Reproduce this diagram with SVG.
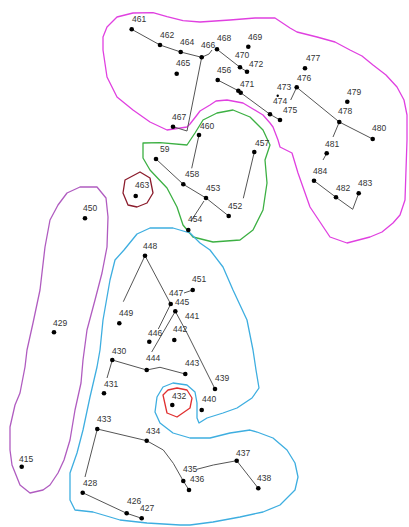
<svg xmlns="http://www.w3.org/2000/svg" width="409" height="527" viewBox="0 0 409 527">
<style>
.b{fill:none;stroke-width:1.3;stroke-linejoin:round}
.l{fill:none;stroke:#555;stroke-width:1}
.d{fill:#000}
text{font-family:"Liberation Sans",Arial,sans-serif;font-size:8.5px;fill:#333}
</style>
<rect width="409" height="527" fill="#fff"/>
<g id="regions">
<path id="region-magenta" class="b" stroke="#e040e0" d="M133,13 L153,12.7 L167,16.7 L183,20.7 L200,22 L230,20 L255,18 L275,18 L290,28 L297,32 L317,37 L335,42 L350,50 L362,56 L373,65 L386,75 L397,87 L404,100 L407,115 L407,140 L406,170 L405,200 L400,215 L393,223 L382,232 L370,237 L347,243 L330,237 L320,222 L310,207 L304,190 L298,173 L292,153 L280,147 L278,140 L273,127 L270,123 L263,115 L253,109 L243,103 L227,100 L216,101 L210,105 L200,111 L197,115 L190,124 L187,127 L167,130 L150,122 L133,110 L117,97 L107,77 L103,50 L103,37 L107,27 L117,17 Z"/>
<path id="region-green" class="b" stroke="#3cb043" d="M143,143 L160,142.7 L187,145 L195,133 L203,120 L217,113 L233,110 L250,117 L263,130 L270,145 L265,160 L267,183 L263,210 L253,230 L240,240 L213,242 L193,237 L183,225 L177,207 L167,188 L150,170 L143,158 Z"/>
<path id="region-463" class="b" stroke="#8b1c2c" d="M140,172 L150,178 L153,193 L147,203 L137,207 L128,205 L123,193 L125,180 Z"/>
<path id="region-purple" class="b" stroke="#b05cc0" d="M80,187 L97,187 L106,198 L108,217 L107,247 L102,273 L95,300 L87,330 L83,360 L81,383 L75,410 L70,440 L64,460 L58,473 L50,485 L43,490 L30,493 L20,485 L12,465 L10,450 L10,427 L15,405 L20,393 L25,367 L27,350 L33,323 L40,290 L45,247 L50,220 L58,205 L67,193 Z"/>
<path id="region-blue" class="b" stroke="#3eaee0" d="M137,234 L150,228 L173,228 L190,233 L200,243 L210,250 L223,267 L233,290 L247,320 L253,350 L256,370 L259,388 L252,398 L237,408 L223,413 L207,418 L199,423 L197,418 L197,403 L195,392 L187,385 L180,384 L173,383 L163,387 L157,397 L155,412 L160,423 L173,433 L190,438 L210,438 L230,433 L250,430 L257,432 L273,438 L287,450 L295,463 L298,477 L295,490 L280,505 L263,512 L240,517 L213,522 L190,525 L180,525 L147,523 L120,520 L110,517 L93,512 L75,510 L70,500 L70,473 L77,453 L83,430 L90,397 L97,367 L100,350 L103,320 L110,280 L115,260 L124,250 Z"/>
<path id="region-432" class="b" stroke="#e03030" d="M168,390 L177,388 L187,390 L192,398 L190,408 L177,417 L167,413 L163,395 Z"/>
</g>
<g id="connectors">
<polyline class="l" points="131.7,29.3 160,45 180.7,52 201.7,57.3"/>
<polyline class="l" points="201.7,57.3 209,54 212,50"/>
<polyline class="l" points="201.7,57.3 187,131 173,126.7"/>
<polyline class="l" points="217,49.3 240,67.3 247,71.7"/>
<polyline class="l" points="217.7,80 238.3,90.7 240.7,92.7 270,114.3 280,120"/>
<line class="l" x1="296.7" y1="87.3" x2="290.7" y2="100"/>
<polyline class="l" points="296.7,87.3 339.3,122 372.7,139"/>
<line class="l" x1="339.3" y1="122" x2="333" y2="137"/>
<line class="l" x1="326.7" y1="153.3" x2="323" y2="160"/>
<polyline class="l" points="314,180.7 336,197.3 352.7,209.3 358.7,193.3"/>
<line class="l" x1="199" y1="135" x2="191.7" y2="168.3"/>
<polyline class="l" points="156,159 183.3,184.3 206,198 228.7,216"/>
<line class="l" x1="254.3" y1="152" x2="243.3" y2="198.3"/>
<line class="l" x1="191" y1="221" x2="204" y2="201"/>
<line class="l" x1="145" y1="255.7" x2="170.7" y2="304"/>
<line class="l" x1="145" y1="255.7" x2="123.3" y2="301.7"/>
<line class="l" x1="184" y1="293" x2="192.7" y2="290"/>
<line class="l" x1="170.7" y1="304" x2="158.3" y2="329"/>
<line class="l" x1="175.3" y1="311.3" x2="151.7" y2="352"/>
<polyline class="l" points="175.3,311.3 187,333 215,389"/>
<polyline class="l" points="112.3,360 146.7,370 160,367.3 185.3,374"/>
<line class="l" x1="112.3" y1="360" x2="107" y2="378"/>
<line class="l" x1="97.3" y1="429" x2="85" y2="477"/>
<polyline class="l" points="97.3,429 146.7,440.7 163.3,450 173.3,463.3 183.3,481 189,490"/>
<polyline class="l" points="196.7,469.3 213.3,465 236.7,460.7 258.3,488.3"/>
<polyline class="l" points="82.7,492.7 126.7,513.3 141.7,518.3"/>
</g>
<g id="nodes">
<g id="n461"><circle class="d" cx="131.7" cy="29.3" r="2.3"/><text x="132" y="22">461</text></g>
<g id="n462"><circle class="d" cx="160" cy="45" r="2.3"/><text x="160" y="38">462</text></g>
<g id="n464"><circle class="d" cx="180.7" cy="52" r="2.3"/><text x="180" y="45">464</text></g>
<g id="n466"><circle class="d" cx="201.7" cy="57.3" r="2.3"/><text x="201" y="48">466</text></g>
<g id="n468"><circle class="d" cx="217" cy="49.3" r="2.3"/><text x="217" y="41">468</text></g>
<g id="n465"><circle class="d" cx="176.7" cy="73.7" r="2.3"/><text x="176" y="66">465</text></g>
<g id="n456"><circle class="d" cx="217.7" cy="80" r="2.3"/><text x="217" y="73">456</text></g>
<g id="n467"><circle class="d" cx="173" cy="126.7" r="2.3"/><text x="172" y="120">467</text></g>
<g id="n469"><circle class="d" cx="248.3" cy="46.7" r="2.3"/><text x="248" y="40">469</text></g>
<g id="n470"><circle class="d" cx="240" cy="67.3" r="2.3"/><text x="235" y="58">470</text></g>
<g id="n472"><circle class="d" cx="247" cy="71.7" r="2.3"/><text x="249" y="67">472</text></g>
<g id="n471"><circle class="d" cx="238.3" cy="90.7" r="2.3"/><circle class="d" cx="240.7" cy="92.7" r="2.3"/><text x="240" y="87">471</text></g>
<g id="n473"><circle class="d" cx="277.7" cy="95.7" r="1.2"/><text x="277" y="90">473</text></g>
<g id="n474"><circle class="d" cx="270" cy="114.3" r="2.3"/><text x="273" y="104">474</text></g>
<g id="n475"><circle class="d" cx="280" cy="120" r="2.3"/><text x="283" y="113">475</text></g>
<g id="n476"><circle class="d" cx="296.7" cy="87.3" r="2.3"/><text x="297" y="81">476</text></g>
<g id="n477"><circle class="d" cx="305" cy="68.3" r="2.3"/><text x="306" y="61">477</text></g>
<g id="n479"><circle class="d" cx="347.3" cy="101.7" r="2.3"/><text x="347" y="95">479</text></g>
<g id="n478"><circle class="d" cx="339.3" cy="122" r="2.3"/><text x="338" y="114">478</text></g>
<g id="n480"><circle class="d" cx="372.7" cy="139" r="2.3"/><text x="372" y="131">480</text></g>
<g id="n481"><circle class="d" cx="326.7" cy="153.3" r="2.3"/><text x="325" y="147">481</text></g>
<g id="n484"><circle class="d" cx="314" cy="180.7" r="2.3"/><text x="313" y="174">484</text></g>
<g id="n482"><circle class="d" cx="336" cy="197.3" r="2.3"/><text x="336" y="191">482</text></g>
<g id="n483"><circle class="d" cx="358.7" cy="193.3" r="2.3"/><text x="358" y="186">483</text></g>
<g id="n460"><circle class="d" cx="199" cy="135" r="2.3"/><text x="200" y="129">460</text></g>
<g id="n59"><circle class="d" cx="156" cy="159" r="2.3"/><text x="160" y="152">59</text></g>
<g id="n458"><circle class="d" cx="183.3" cy="184.3" r="2.3"/><text x="185" y="177">458</text></g>
<g id="n453"><circle class="d" cx="206" cy="198" r="2.3"/><text x="206" y="191">453</text></g>
<g id="n452"><circle class="d" cx="228.7" cy="216" r="2.3"/><text x="228" y="209">452</text></g>
<g id="n457"><circle class="d" cx="254.3" cy="152" r="2.3"/><text x="255" y="146">457</text></g>
<g id="n454"><circle class="d" cx="188.3" cy="230" r="2.3"/><text x="188" y="222">454</text></g>
<g id="n463"><circle class="d" cx="135.7" cy="196" r="2.3"/><text x="135" y="188">463</text></g>
<g id="n450"><circle class="d" cx="85" cy="218.3" r="2.3"/><text x="83" y="211">450</text></g>
<g id="n429"><circle class="d" cx="54" cy="332.3" r="2.3"/><text x="53" y="326">429</text></g>
<g id="n415"><circle class="d" cx="21.7" cy="466.7" r="2.3"/><text x="19" y="462">415</text></g>
<g id="n448"><circle class="d" cx="145" cy="255.7" r="2.3"/><text x="143" y="249">448</text></g>
<g id="n449"><circle class="d" cx="119.3" cy="323.3" r="2.3"/><text x="119" y="316">449</text></g>
<g id="n451"><circle class="d" cx="192.7" cy="290" r="2.3"/><text x="192" y="282">451</text></g>
<g id="n447"><text x="169" y="296">447</text></g>
<g id="n445"><circle class="d" cx="170.7" cy="304" r="2.3"/><text x="175" y="305">445</text></g>
<g id="n441"><circle class="d" cx="175.3" cy="311.3" r="2.3"/><text x="185" y="319">441</text></g>
<g id="n442"><circle class="d" cx="174.3" cy="340" r="2.3"/><text x="173" y="332">442</text></g>
<g id="n446"><circle class="d" cx="149.3" cy="341.7" r="2.3"/><text x="148" y="336">446</text></g>
<g id="n444"><circle class="d" cx="146.7" cy="370" r="2.3"/><text x="146" y="361">444</text></g>
<g id="n443"><circle class="d" cx="185.3" cy="374" r="2.3"/><text x="185" y="366">443</text></g>
<g id="n430"><circle class="d" cx="112.3" cy="360" r="2.3"/><text x="112" y="354">430</text></g>
<g id="n439"><circle class="d" cx="215" cy="389" r="2.3"/><text x="215" y="381">439</text></g>
<g id="n431"><circle class="d" cx="104" cy="393.3" r="2.3"/><text x="104" y="387">431</text></g>
<g id="n432"><circle class="d" cx="172.3" cy="405" r="2.3"/><text x="172" y="399">432</text></g>
<g id="n440"><circle class="d" cx="201.7" cy="410" r="2.3"/><text x="202" y="402">440</text></g>
<g id="n433"><circle class="d" cx="97.3" cy="429" r="2.3"/><text x="97" y="422">433</text></g>
<g id="n434"><circle class="d" cx="146.7" cy="440.7" r="2.3"/><text x="146" y="434">434</text></g>
<g id="n435"><circle class="d" cx="183.3" cy="481" r="2.3"/><text x="183" y="472">435</text></g>
<g id="n436"><circle class="d" cx="189" cy="490" r="2.3"/><text x="190" y="482">436</text></g>
<g id="n437"><circle class="d" cx="236.7" cy="460.7" r="2.3"/><text x="236" y="456">437</text></g>
<g id="n438"><circle class="d" cx="258.3" cy="488.3" r="2.3"/><text x="257" y="481">438</text></g>
<g id="n428"><circle class="d" cx="82.7" cy="492.7" r="2.3"/><text x="83" y="486">428</text></g>
<g id="n426"><circle class="d" cx="126.7" cy="513.3" r="2.3"/><text x="127" y="504">426</text></g>
<g id="n427"><circle class="d" cx="141.7" cy="518.3" r="2.3"/><text x="140" y="511">427</text></g>
</g>
</svg>
